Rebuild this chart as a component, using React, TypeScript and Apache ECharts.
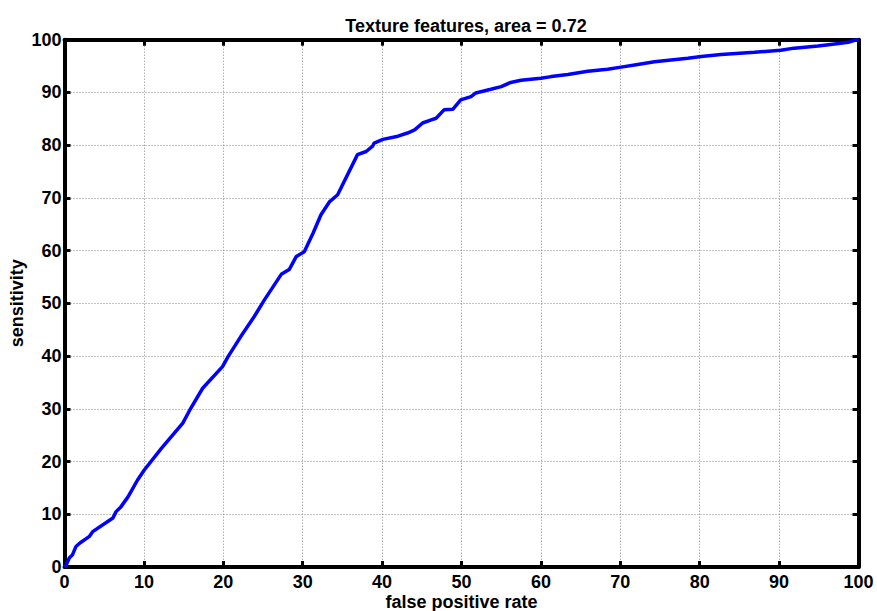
import React, { useEffect, useRef } from "react";
import * as echarts from "echarts";

const chartTitle = "Texture features, area = 0.72";
const xName = "false positive rate";
const yName = "sensitivity";

// false positive rate (%)
const fpr = [
  0, 0.2, 0.6, 1.0, 1.45, 1.9, 3.1, 3.55, 6.1, 6.5, 7.1, 8.0, 9.2, 10.05, 12.2,
  14.9, 15.9, 17.4, 19.9, 20.6, 22.2, 23.9, 25.2, 27.3, 28.3, 29.2, 30.2, 31.3,
  32.3, 33.4, 34.4, 36.9, 38.0, 38.8, 39.0, 40.1, 42.0, 43.2, 44.1, 45.1, 46.2,
  46.8, 47.8, 48.9, 49.9, 51.2, 51.8, 53.7, 55.0, 56.2, 57.5, 60.0, 61.3, 63.4,
  65.9, 68.4, 70.1, 72.2, 74.3, 78.5, 80.2, 82.7, 86.9, 90.2, 91.9, 94.9, 97.0,
  98.7, 99.5, 100,
];
// sensitivity (%)
const sens = [
  0, 0.3, 1.7, 2.3, 3.9, 4.5, 5.75, 6.7, 9.3, 10.5, 11.4, 13.3, 16.5, 18.4, 22.5,
  27.3, 30.1, 33.9, 38.0, 39.9, 43.7, 47.5, 50.7, 55.5, 56.4, 58.9, 59.8, 63.3,
  66.8, 69.3, 70.6, 78.2, 78.8, 79.8, 80.4, 81.1, 81.7, 82.3, 82.9, 84.2, 84.8,
  85.1, 86.7, 86.8, 88.6, 89.2, 89.9, 90.6, 91.1, 91.9, 92.3, 92.7, 93.0, 93.4,
  94.0, 94.4, 94.8, 95.3, 95.8, 96.5, 96.8, 97.2, 97.6, 98.0, 98.4, 98.8, 99.2,
  99.5, 99.9, 100,
];

const FONT = "'Liberation Sans', Arial, Helvetica, sans-serif";

export default function App() {
  const ref = useRef<HTMLDivElement>(null);
  useEffect(() => {
    if (!ref.current) return;
    const chart = echarts.init(ref.current, null, { renderer: "svg" });
    const axisLine = { show: true, onZero: false, lineStyle: { color: "#000", width: 4 } };
    const axisTick = { show: true, inside: true, length: 6, lineStyle: { color: "#000", width: 3 } };
    const splitLine = { show: true, lineStyle: { color: "#888", width: 1, type: [1, 2] as any } };
    const labelStyle = { color: "#000", fontFamily: FONT, fontWeight: "bold" as const, fontSize: 18 };
    chart.setOption({
      animation: false,
      backgroundColor: "#fff",
      title: {
        text: chartTitle,
        left: 461,
        textAlign: "center",
        top: 12,
        textStyle: { color: "#000", fontFamily: FONT, fontWeight: "bold", fontSize: 18 },
      },
      grid: { left: 64.5, right: 18.5, top: 39.7, bottom: 44, outerBoundsMode: "none", containLabel: false },
      xAxis: [
        {
          type: "value",
          min: 0,
          max: 100,
          interval: 10,
          position: "bottom",
          name: xName,
          nameLocation: "middle",
          nameGap: 35,
          nameMoveOverlap: false,
          nameTextStyle: { ...labelStyle, verticalAlign: "middle" },
          axisLine,
          axisTick,
          axisLabel: { ...labelStyle, margin: 6 },
          splitLine,
        },
        {
          type: "value",
          min: 0,
          max: 100,
          interval: 10,
          position: "top",
          axisLine,
          axisTick,
          axisLabel: { show: false },
          splitLine: { show: false },
        },
      ],
      yAxis: [
        {
          type: "value",
          min: 0,
          max: 100,
          interval: 10,
          position: "left",
          name: yName,
          nameLocation: "middle",
          nameGap: 47.5,
          nameMoveOverlap: false,
          nameTextStyle: { ...labelStyle, verticalAlign: "middle" },
          axisLine,
          axisTick,
          axisLabel: { ...labelStyle, margin: 3 },
          splitLine,
        },
        {
          type: "value",
          min: 0,
          max: 100,
          interval: 10,
          position: "right",
          axisLine,
          axisTick,
          axisLabel: { show: false },
          splitLine: { show: false },
        },
      ],
      series: [
        {
          type: "line",
          xAxisIndex: 0,
          yAxisIndex: 0,
          data: fpr.map((x, i) => [x, sens[i]]),
          showSymbol: false,
          symbol: "none",
          lineStyle: { color: "#0000ff", width: 3.5 },
          z: 5,
        },
      ],
    });
    return () => chart.dispose();
  }, []);
  return (
    <div
      ref={ref}
      style={{ position: "absolute", left: 0, top: 0, width: 877, height: 611, background: "#fff" }}
    />
  );
}
